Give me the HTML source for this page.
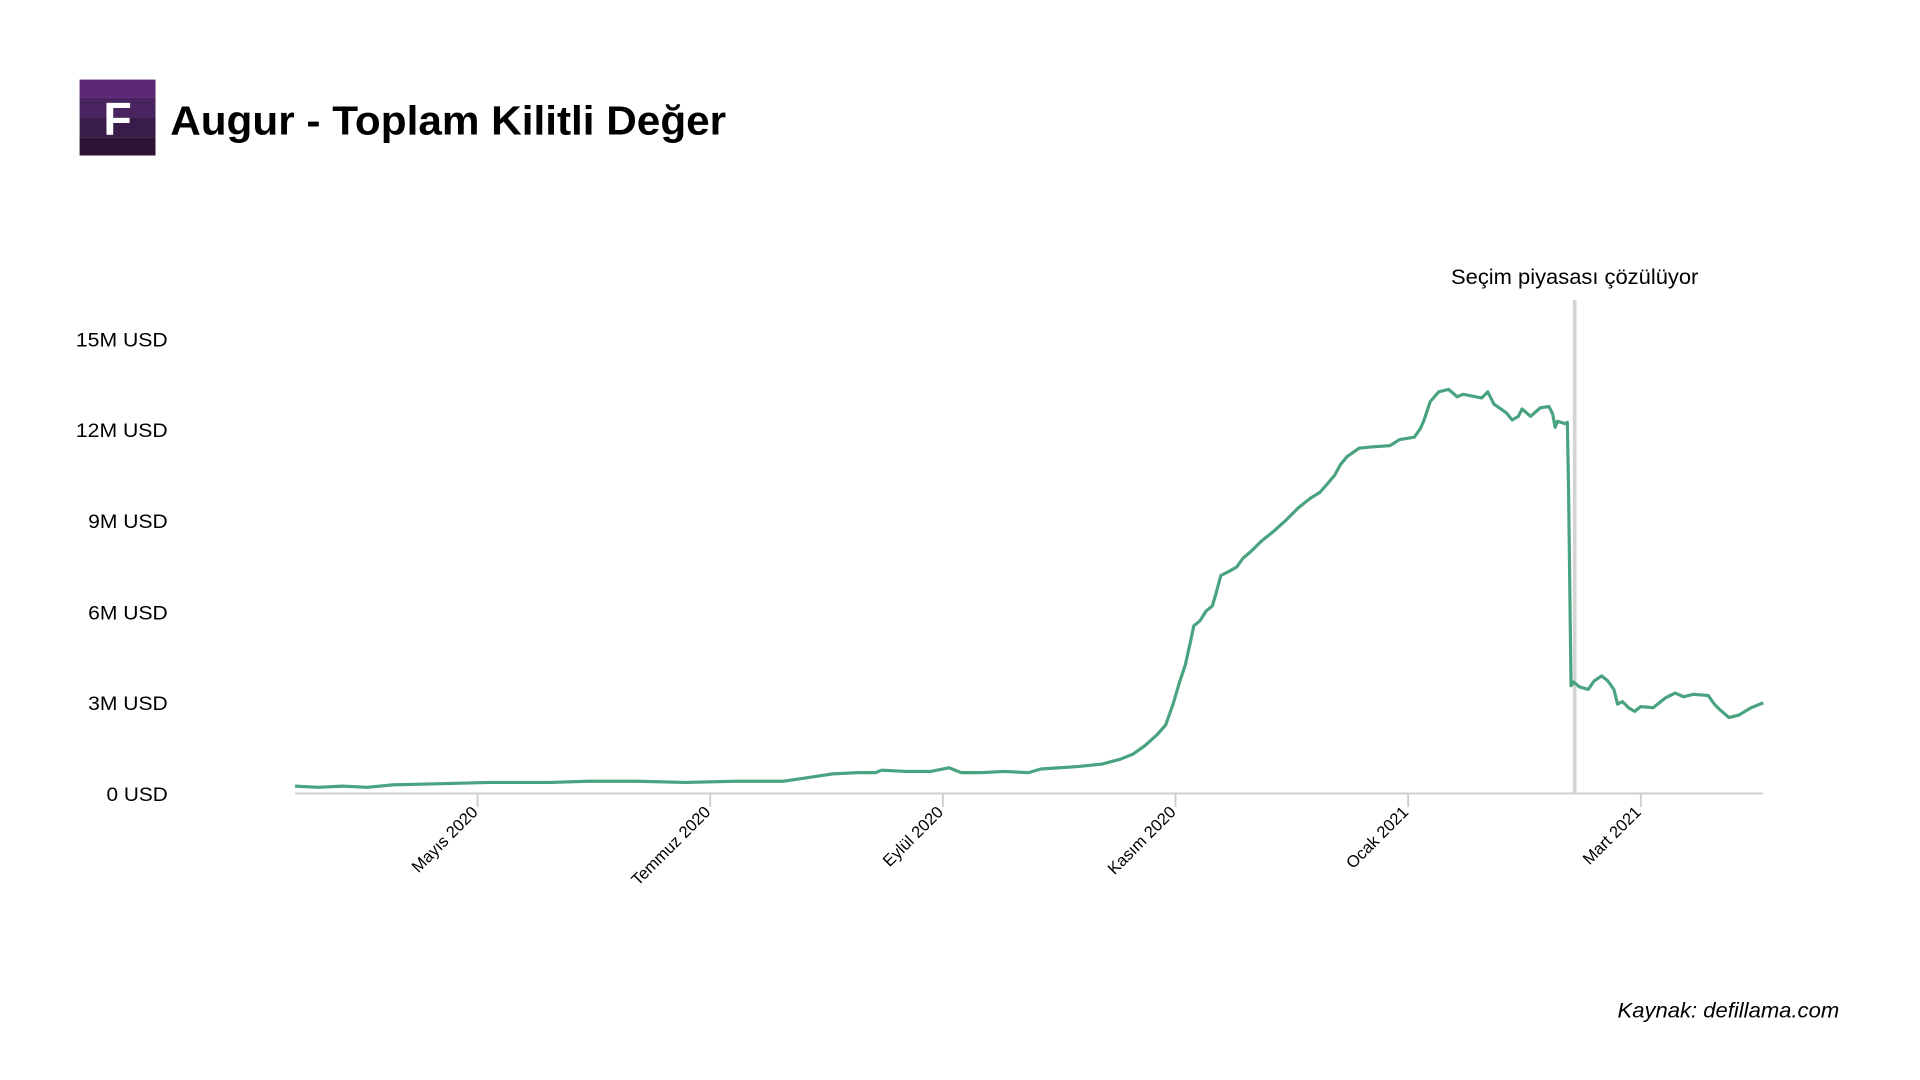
<!DOCTYPE html>
<html><head><meta charset="utf-8"><style>
html,body{margin:0;padding:0;background:#fff;}
svg{display:block;}
text{font-family:"Liberation Sans",sans-serif;}
</style></head><body>
<svg width="1920" height="1080" viewBox="0 0 1568 882" xmlns="http://www.w3.org/2000/svg">
<rect x="65" y="65" width="62" height="15" fill="#5d2878"/>
<rect x="65" y="80" width="62" height="16" fill="#4a2460"/>
<rect x="65" y="96" width="62" height="16" fill="#3a1c4a"/>
<rect x="65" y="112" width="62" height="15" fill="#2b1434"/>
<text x="96" y="110" font-size="38" font-weight="bold" fill="#fff" text-anchor="middle">F</text>
<text x="139" y="110" font-size="33" font-weight="bold" fill="#000" textLength="454" lengthAdjust="spacingAndGlyphs">Augur - Toplam Kilitli Değer</text>
<g font-size="16" fill="#000" text-anchor="end">
<text x="137" y="283" textLength="75" lengthAdjust="spacingAndGlyphs">15M USD</text>
<text x="137" y="357" textLength="75" lengthAdjust="spacingAndGlyphs">12M USD</text>
<text x="137" y="431" textLength="65" lengthAdjust="spacingAndGlyphs">9M USD</text>
<text x="137" y="506" textLength="65" lengthAdjust="spacingAndGlyphs">6M USD</text>
<text x="137" y="580" textLength="65" lengthAdjust="spacingAndGlyphs">3M USD</text>
<text x="137" y="654" textLength="50" lengthAdjust="spacingAndGlyphs">0 USD</text>
</g>
<line x1="241" y1="648" x2="1440" y2="648" stroke="#ccc" stroke-width="1.5"/>
<g stroke="#ccc" stroke-width="1.5">
<line x1="390" y1="648" x2="390" y2="659"/><line x1="580" y1="648" x2="580" y2="659"/>
<line x1="770" y1="648" x2="770" y2="659"/><line x1="960" y1="648" x2="960" y2="659"/>
<line x1="1150" y1="648" x2="1150" y2="659"/><line x1="1340" y1="648" x2="1340" y2="659"/>
</g>
<g font-size="13.5" fill="#000" text-anchor="end">
<text transform="translate(391,664) rotate(-45)">Mayıs 2020</text>
<text transform="translate(581,664) rotate(-45)">Temmuz 2020</text>
<text transform="translate(771,664) rotate(-45)">Eylül 2020</text>
<text transform="translate(961,664) rotate(-45)">Kasım 2020</text>
<text transform="translate(1151,664) rotate(-45)">Ocak 2021</text>
<text transform="translate(1341,664) rotate(-45)">Mart 2021</text>
</g>
<line x1="1286" y1="245" x2="1286" y2="648" stroke="#d4d4d4" stroke-width="3"/>
<text x="1286" y="232" font-size="17" text-anchor="middle" fill="#000" textLength="202" lengthAdjust="spacingAndGlyphs">Seçim piyasası çözülüyor</text>
<polyline fill="none" stroke="#4aa37f" stroke-width="2.6" stroke-linejoin="round" points="241,642 260,643 280,642 300,643 320,641 360,640 400,639 450,639 480,638 520,638 560,639 600,638 640,638 660,635 680,632 700,631 715,631 720,629 740,630 760,630 775,627 785,631 800,631 820,630 840,631 850,628 880,626 900,624 915,620 925,616 935,609 945,600 952,592 958,575 963,558 968,543 972,525 975,511 980,507 985,499 990,495 993,485 997,470 1003,467 1010,463 1015,456 1022,450 1030,442 1040,434 1050,425 1060,415 1070,407 1078,402 1085,394 1090,388 1095,379 1100,373 1110,366 1120,365 1135,364 1143,359 1155,357 1160,350 1163,343 1168,328 1175,320 1183,318 1190,324 1195,322 1210,325 1215,320 1220,330 1230,337 1235,343 1240,340 1243,334 1250,340 1258,333 1265,332 1268,338 1270,349 1272,344 1278,346 1280,345 1281,400 1282,480 1283,560 1285,557 1290,561 1297,563 1302,556 1308,552 1313,556 1318,563 1321,575 1325,573 1330,578 1335,581 1340,577 1350,578 1360,570 1368,566 1375,569 1383,567 1395,568 1400,575 1405,580 1412,586 1420,584 1430,578 1440,574"/>
<text x="1502" y="831" font-size="17" font-style="italic" text-anchor="end" fill="#000" textLength="181" lengthAdjust="spacingAndGlyphs">Kaynak: defillama.com</text>
</svg>
</body></html>
